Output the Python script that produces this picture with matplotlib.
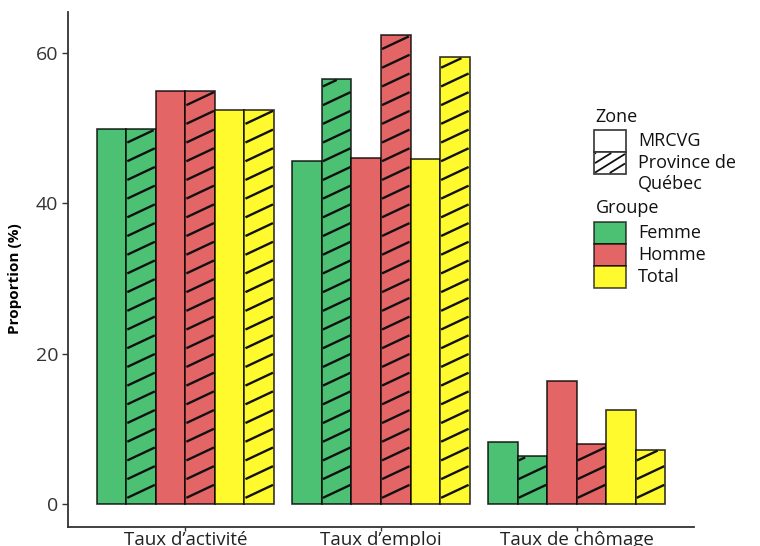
import numpy as np
import matplotlib; matplotlib.use('Agg')
import matplotlib.pyplot as plt
from matplotlib.patches import Rectangle
from matplotlib.collections import LineCollection
from matplotlib.transforms import IdentityTransform

#===============================================================================
#  Data
#===============================================================================
categories = ["Taux d\u2019activit\u00e9", "Taux d\u2019emploi", "Taux de ch\u00f4mage"]
groups = ["Femme", "Homme", "Total"]
zones = ["MRCVG", "Province de\nQu\u00e9bec"]

# one value per category
femme_mrcvg = [49.9, 45.7, 8.2]
femme_quebec = [49.9, 56.6, 6.3]
homme_mrcvg = [55.0, 46.0, 16.3]
homme_quebec = [55.0, 62.4, 8.0]
total_mrcvg = [52.5, 45.9, 12.5]
total_quebec = [52.5, 59.5, 7.2]

# (values, group index, zone index)
series = [(femme_mrcvg, 0, 0), (femme_quebec, 0, 1),
          (homme_mrcvg, 1, 0), (homme_quebec, 1, 1),
          (total_mrcvg, 2, 0), (total_quebec, 2, 1)]

colors = ['#4CC174', '#E46566', '#FFFA2E']
yticks = [0, 20, 40, 60]

plt.rcParams['font.family'] = ['Open Sans', 'DejaVu Sans']

#===============================================================================
#  Figure
#===============================================================================
W, H = 760, 546
fig = plt.figure(figsize=(W/100, H/100), dpi=100)
ax = fig.add_axes([68/W, 1 - 527/H, (694-68)/W, (527-12)/H])

x = np.arange(len(categories))
bw = 0.151
edge = (0, 0, 0, 0.8)
hatched = []
for i, (vals, g, z) in enumerate(series):
    bars = ax.bar(x + (i - 2.5)*bw, vals, width=bw, color=colors[g],
                  edgecolor=edge, linewidth=1.2, zorder=2)
    if z == 1:
        hatched.extend(bars.patches)

ymax = max(max(s[0]) for s in series)
ax.set_xlim(-0.6, len(categories) - 0.4)
ax.set_ylim(-0.05*ymax, 1.05*ymax)
ax.set_xticks(x)
ax.set_xticklabels(categories, fontsize=13.5, color='#222222')
ax.set_yticks(yticks)
ax.set_yticklabels([str(t) for t in yticks], fontsize=14, color='#333333')
ax.tick_params(axis='y', length=4, width=1, color='#333333', pad=3)
ax.tick_params(axis='x', length=3, width=1, color='#333333', pad=0)
for s in ['top', 'right']:
    ax.spines[s].set_visible(False)
for s in ['left', 'bottom']:
    ax.spines[s].set_color('#333333')
    ax.spines[s].set_linewidth(1.3)
ax.set_ylabel("Proportion (%)", fontsize=11, fontweight='bold')
ax.yaxis.set_label_coords(-0.073, 0.483)


def hatch_lines(x0, y0, x1, y1, slope=0.47, step=18.7, lw=1.7):
    # diagonal lines in pixel space, cut to the box (x0, y0)-(x1, y1)
    w = x1 - x0
    segs = []
    c = y0 - slope*w
    while c < y1:
        xa = max(x0, x0 + (y0 - c)/slope)
        xb = min(x1, x0 + (y1 - c)/slope)
        if xb > xa:
            segs.append([(xa, c + slope*(xa - x0)), (xb, c + slope*(xb - x0))])
        c += step
    return LineCollection(segs, colors='#111111', linewidths=lw,
                          transform=IdentityTransform(), zorder=3,
                          capstyle='butt')


for p in hatched:
    (px0, py0), (px1, py1) = ax.transData.transform(
        [(p.get_x(), 0), (p.get_x() + p.get_width(), p.get_height())])
    ax.add_collection(hatch_lines(px0 + 1, py0, px1 - 1, py1 - 1), autolim=False)

#===============================================================================
#  Legend (drawn by hand to keep the ggplot layout)
#===============================================================================
def fx(px): return px / W
def fy(py): return 1 - py / H

kx0, kw, kh = 594, 32, 22
tx = 638
fs = 13
fig.text(fx(595), fy(117), "Zone", fontsize=fs, va='center', color='#111111')
for j, z in enumerate(zones):
    top = 130 + j*kh
    fig.add_artist(Rectangle((fx(kx0), fy(top + kh)), fx(kw), kh/H,
                             transform=fig.transFigure, facecolor='white',
                             edgecolor='#333333', linewidth=1.2))
    if j == 1:
        fig.add_artist(hatch_lines(kx0 + 1, H - top - kh + 1, kx0 + kw - 1, H - top - 1,
                                   slope=0.62, step=9.5, lw=1.3))
    for k, line in enumerate(z.split('\n')):
        fig.text(fx(tx), fy(top + 11 + 21*k), line, fontsize=fs, va='center',
                 color='#111111')

fig.text(fx(596), fy(208), "Groupe", fontsize=fs, va='center', color='#111111')
for j, g in enumerate(groups):
    top = 222 + j*kh
    fig.add_artist(Rectangle((fx(kx0), fy(top + kh)), fx(kw), kh/H,
                             transform=fig.transFigure, facecolor=colors[j],
                             edgecolor=(0, 0, 0, 0.7), linewidth=1.2))
    fig.text(fx(tx), fy(top + 11), g, fontsize=fs, va='center', color='#111111')

plt.savefig("out.png", dpi=100)
